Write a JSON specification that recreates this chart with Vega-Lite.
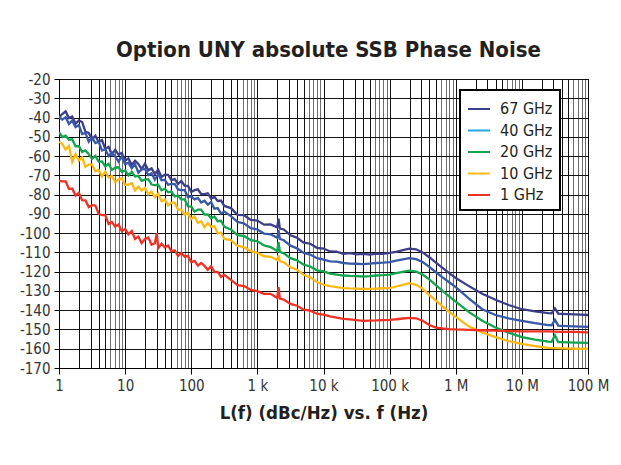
{
  "$schema": "https://vega.github.io/schema/vega-lite/v6.json",
  "width": 529,
  "height": 289,
  "autosize": {"type": "none"},
  "padding": {"left": 59, "top": 79, "right": 33, "bottom": 97},
  "background": "white",
  "title": {
    "text": "Option UNY absolute SSB Phase Noise",
    "font": "'Liberation Sans Narrow', 'DejaVu Sans Condensed', sans-serif",
    "fontSize": 22,
    "fontWeight": "bold",
    "color": "#231f20",
    "anchor": "middle",
    "baseline": "alphabetic",
    "offset": 18,
    "dx": 5,
    "dy": 25
  },
  "config": {
    "font": "'Liberation Sans Narrow', 'DejaVu Sans Condensed', sans-serif",
    "view": {"stroke": "#000", "strokeWidth": 1}
  },
  "data": {
    "values": [
      {"s":"67 GHz","f":1,"v":-40.0},{"s":"67 GHz","f":1.122,"v":-38.2},{"s":"67 GHz","f":1.259,"v":-36.8},{"s":"67 GHz","f":1.413,"v":-40.3},{"s":"67 GHz","f":1.585,"v":-39.5},{"s":"67 GHz","f":1.778,"v":-43.2},{"s":"67 GHz","f":1.995,"v":-41.5},{"s":"67 GHz","f":2.239,"v":-42.3},{"s":"67 GHz","f":2.512,"v":-47.4},{"s":"67 GHz","f":2.818,"v":-48.0},{"s":"67 GHz","f":3.162,"v":-51.4},{"s":"67 GHz","f":3.548,"v":-49.5},{"s":"67 GHz","f":3.981,"v":-52.8},{"s":"67 GHz","f":4.467,"v":-51.7},{"s":"67 GHz","f":5.012,"v":-56.2},{"s":"67 GHz","f":5.623,"v":-55.2},{"s":"67 GHz","f":6.31,"v":-59.2},{"s":"67 GHz","f":7.079,"v":-56.7},{"s":"67 GHz","f":7.943,"v":-59.3},{"s":"67 GHz","f":8.913,"v":-58.3},{"s":"67 GHz","f":10,"v":-62.4},{"s":"67 GHz","f":11.22,"v":-61.2},{"s":"67 GHz","f":12.59,"v":-64.6},{"s":"67 GHz","f":14.13,"v":-62.4},{"s":"67 GHz","f":15.85,"v":-64.1},{"s":"67 GHz","f":17.78,"v":-66.8},{"s":"67 GHz","f":19.95,"v":-63.9},{"s":"67 GHz","f":22.39,"v":-67.4},{"s":"67 GHz","f":25.12,"v":-66.4},{"s":"67 GHz","f":28.18,"v":-69.3},{"s":"67 GHz","f":31.62,"v":-67.1},{"s":"67 GHz","f":35.48,"v":-70.8},{"s":"67 GHz","f":39.81,"v":-69.7},{"s":"67 GHz","f":44.67,"v":-69.8},{"s":"67 GHz","f":50.12,"v":-72.5},{"s":"67 GHz","f":56.23,"v":-72.0},{"s":"67 GHz","f":63.1,"v":-74.5},{"s":"67 GHz","f":70.79,"v":-72.9},{"s":"67 GHz","f":79.43,"v":-75.3},{"s":"67 GHz","f":89.13,"v":-75.5},{"s":"67 GHz","f":100,"v":-78.6},{"s":"67 GHz","f":112.2,"v":-77.7},{"s":"67 GHz","f":125.9,"v":-77.3},{"s":"67 GHz","f":141.3,"v":-79.7},{"s":"67 GHz","f":158.5,"v":-79.8},{"s":"67 GHz","f":177.8,"v":-79.3},{"s":"67 GHz","f":199.5,"v":-82.1},{"s":"67 GHz","f":223.9,"v":-81.1},{"s":"67 GHz","f":251.2,"v":-83.3},{"s":"67 GHz","f":281.8,"v":-83.1},{"s":"67 GHz","f":316.2,"v":-85.9},
      {"s":"67 GHz","f":398.1,"v":-87.0},{"s":"67 GHz","f":501.2,"v":-90.5},{"s":"67 GHz","f":631,"v":-90.7},{"s":"67 GHz","f":794.3,"v":-93.1},{"s":"67 GHz","f":1000,"v":-93.5},{"s":"67 GHz","f":1259,"v":-95.6},{"s":"67 GHz","f":1585,"v":-95.5},{"s":"67 GHz","f":1995,"v":-97.0},{"s":"67 GHz","f":2089,"v":-92.5},{"s":"67 GHz","f":2188,"v":-97.6},{"s":"67 GHz","f":2512,"v":-98.1},{"s":"67 GHz","f":3162,"v":-101.1},{"s":"67 GHz","f":3981,"v":-102.4},{"s":"67 GHz","f":5012,"v":-104.9},{"s":"67 GHz","f":6310,"v":-105.5},{"s":"67 GHz","f":7943,"v":-107.6},{"s":"67 GHz","f":10000,"v":-108.0},{"s":"67 GHz","f":12590,"v":-109.5},{"s":"67 GHz","f":15850,"v":-109.6},{"s":"67 GHz","f":19950,"v":-110.7},{"s":"67 GHz","f":25120,"v":-110.4},{"s":"67 GHz","f":31620,"v":-111.0},{"s":"67 GHz","f":39810,"v":-110.8},{"s":"67 GHz","f":50120,"v":-111.1},{"s":"67 GHz","f":63100,"v":-110.6},{"s":"67 GHz","f":79430,"v":-110.8},{"s":"67 GHz","f":100000,"v":-110.3},{"s":"67 GHz","f":125900,"v":-109.7},{"s":"67 GHz","f":158500,"v":-108.8},{"s":"67 GHz","f":199500,"v":-108.0},{"s":"67 GHz","f":251200,"v":-108.4},{"s":"67 GHz","f":316200,"v":-110.0},{"s":"67 GHz","f":398100,"v":-112.5},{"s":"67 GHz","f":501200,"v":-115.3},{"s":"67 GHz","f":631000,"v":-118.0},{"s":"67 GHz","f":794300,"v":-120.8},{"s":"67 GHz","f":1000000,"v":-123.3},{"s":"67 GHz","f":1585000,"v":-127.5},{"s":"67 GHz","f":2512000,"v":-131.5},{"s":"67 GHz","f":3981000,"v":-134.6},{"s":"67 GHz","f":6310000,"v":-137.3},{"s":"67 GHz","f":10000000,"v":-139.5},{"s":"67 GHz","f":15850000,"v":-140.6},{"s":"67 GHz","f":25120000,"v":-141.5},{"s":"67 GHz","f":28180000,"v":-141.6},{"s":"67 GHz","f":31620000,"v":-139.0},{"s":"67 GHz","f":35480000,"v":-141.8},{"s":"67 GHz","f":39810000,"v":-141.9},{"s":"67 GHz","f":63100000,"v":-142.2},{"s":"67 GHz","f":100000000,"v":-142.5},

      {"s":"40 GHz","f":1,"v":-39.7},{"s":"40 GHz","f":1.122,"v":-41.1},{"s":"40 GHz","f":1.259,"v":-39.8},{"s":"40 GHz","f":1.413,"v":-43.3},{"s":"40 GHz","f":1.585,"v":-41.5},{"s":"40 GHz","f":1.778,"v":-45.0},{"s":"40 GHz","f":1.995,"v":-43.9},{"s":"40 GHz","f":2.239,"v":-48.6},{"s":"40 GHz","f":2.512,"v":-48.0},{"s":"40 GHz","f":2.818,"v":-52.5},{"s":"40 GHz","f":3.162,"v":-50.3},{"s":"40 GHz","f":3.548,"v":-53.3},{"s":"40 GHz","f":3.981,"v":-52.6},{"s":"40 GHz","f":4.467,"v":-57.1},{"s":"40 GHz","f":5.012,"v":-56.4},{"s":"40 GHz","f":5.623,"v":-60.0},{"s":"40 GHz","f":6.31,"v":-58.1},{"s":"40 GHz","f":7.079,"v":-60.1},{"s":"40 GHz","f":7.943,"v":-62.9},{"s":"40 GHz","f":8.913,"v":-60.3},{"s":"40 GHz","f":10,"v":-64.2},{"s":"40 GHz","f":11.22,"v":-63.4},{"s":"40 GHz","f":12.59,"v":-66.3},{"s":"40 GHz","f":14.13,"v":-64.2},{"s":"40 GHz","f":15.85,"v":-68.6},{"s":"40 GHz","f":17.78,"v":-66.9},{"s":"40 GHz","f":19.95,"v":-66.6},{"s":"40 GHz","f":22.39,"v":-69.9},{"s":"40 GHz","f":25.12,"v":-69.0},{"s":"40 GHz","f":28.18,"v":-72.2},{"s":"40 GHz","f":31.62,"v":-69.4},{"s":"40 GHz","f":35.48,"v":-72.5},{"s":"40 GHz","f":39.81,"v":-72.3},{"s":"40 GHz","f":44.67,"v":-74.9},{"s":"40 GHz","f":50.12,"v":-74.4},{"s":"40 GHz","f":56.23,"v":-74.5},{"s":"40 GHz","f":63.1,"v":-77.3},{"s":"40 GHz","f":70.79,"v":-77.7},{"s":"40 GHz","f":79.43,"v":-77.6},{"s":"40 GHz","f":89.13,"v":-81.3},{"s":"40 GHz","f":100,"v":-80.9},{"s":"40 GHz","f":112.2,"v":-82.5},{"s":"40 GHz","f":125.9,"v":-81.7},{"s":"40 GHz","f":141.3,"v":-84.1},{"s":"40 GHz","f":158.5,"v":-83.2},{"s":"40 GHz","f":177.8,"v":-85.2},{"s":"40 GHz","f":199.5,"v":-83.9},{"s":"40 GHz","f":223.9,"v":-87.3},{"s":"40 GHz","f":251.2,"v":-87.0},{"s":"40 GHz","f":281.8,"v":-89.8},{"s":"40 GHz","f":316.2,"v":-88.8},
      {"s":"40 GHz","f":398.1,"v":-91.2},{"s":"40 GHz","f":501.2,"v":-94.2},{"s":"40 GHz","f":631,"v":-95.0},{"s":"40 GHz","f":794.3,"v":-97.4},{"s":"40 GHz","f":1000,"v":-98.1},{"s":"40 GHz","f":1259,"v":-100.2},{"s":"40 GHz","f":1585,"v":-100.6},{"s":"40 GHz","f":1995,"v":-102.4},{"s":"40 GHz","f":2089,"v":-98.5},{"s":"40 GHz","f":2188,"v":-103.0},{"s":"40 GHz","f":2512,"v":-103.7},{"s":"40 GHz","f":3162,"v":-106.5},{"s":"40 GHz","f":3981,"v":-107.9},{"s":"40 GHz","f":5012,"v":-110.3},{"s":"40 GHz","f":6310,"v":-111.1},{"s":"40 GHz","f":7943,"v":-113.0},{"s":"40 GHz","f":10000,"v":-113.7},{"s":"40 GHz","f":12590,"v":-114.7},{"s":"40 GHz","f":15850,"v":-114.8},{"s":"40 GHz","f":19950,"v":-115.5},{"s":"40 GHz","f":25120,"v":-115.8},{"s":"40 GHz","f":31620,"v":-115.9},{"s":"40 GHz","f":39810,"v":-116.1},{"s":"40 GHz","f":50120,"v":-115.8},{"s":"40 GHz","f":63100,"v":-115.5},{"s":"40 GHz","f":79430,"v":-115.3},{"s":"40 GHz","f":100000,"v":-115.0},{"s":"40 GHz","f":125900,"v":-114.3},{"s":"40 GHz","f":158500,"v":-113.6},{"s":"40 GHz","f":199500,"v":-113.0},{"s":"40 GHz","f":251200,"v":-113.5},{"s":"40 GHz","f":316200,"v":-115.0},{"s":"40 GHz","f":398100,"v":-117.5},{"s":"40 GHz","f":501200,"v":-120.3},{"s":"40 GHz","f":631000,"v":-123.0},{"s":"40 GHz","f":794300,"v":-125.5},{"s":"40 GHz","f":1000000,"v":-128.0},{"s":"40 GHz","f":1585000,"v":-134.0},{"s":"40 GHz","f":2512000,"v":-139.5},{"s":"40 GHz","f":3981000,"v":-142.5},{"s":"40 GHz","f":6310000,"v":-144.3},{"s":"40 GHz","f":10000000,"v":-145.5},{"s":"40 GHz","f":15850000,"v":-146.7},{"s":"40 GHz","f":25120000,"v":-147.7},{"s":"40 GHz","f":28180000,"v":-147.8},{"s":"40 GHz","f":31620000,"v":-145.0},{"s":"40 GHz","f":35480000,"v":-148.0},{"s":"40 GHz","f":39810000,"v":-148.1},{"s":"40 GHz","f":63100000,"v":-148.4},{"s":"40 GHz","f":100000000,"v":-148.7},

      {"s":"20 GHz","f":1,"v":-47.6},{"s":"20 GHz","f":1.122,"v":-50.1},{"s":"20 GHz","f":1.259,"v":-49.4},{"s":"20 GHz","f":1.413,"v":-51.5},{"s":"20 GHz","f":1.585,"v":-51.3},{"s":"20 GHz","f":1.778,"v":-54.9},{"s":"20 GHz","f":1.995,"v":-54.8},{"s":"20 GHz","f":2.239,"v":-57.9},{"s":"20 GHz","f":2.512,"v":-57.1},{"s":"20 GHz","f":2.818,"v":-59.1},{"s":"20 GHz","f":3.162,"v":-61.4},{"s":"20 GHz","f":3.548,"v":-59.9},{"s":"20 GHz","f":3.981,"v":-62.9},{"s":"20 GHz","f":4.467,"v":-62.8},{"s":"20 GHz","f":5.012,"v":-65.4},{"s":"20 GHz","f":5.623,"v":-64.0},{"s":"20 GHz","f":6.31,"v":-67.2},{"s":"20 GHz","f":7.079,"v":-66.0},{"s":"20 GHz","f":7.943,"v":-65.8},{"s":"20 GHz","f":8.913,"v":-68.2},{"s":"20 GHz","f":10,"v":-67.5},{"s":"20 GHz","f":11.22,"v":-70.0},{"s":"20 GHz","f":12.59,"v":-68.2},{"s":"20 GHz","f":14.13,"v":-70.6},{"s":"20 GHz","f":15.85,"v":-70.3},{"s":"20 GHz","f":17.78,"v":-72.9},{"s":"20 GHz","f":19.95,"v":-72.2},{"s":"20 GHz","f":22.39,"v":-72.0},{"s":"20 GHz","f":25.12,"v":-74.8},{"s":"20 GHz","f":28.18,"v":-75.1},{"s":"20 GHz","f":31.62,"v":-74.9},{"s":"20 GHz","f":35.48,"v":-77.8},{"s":"20 GHz","f":39.81,"v":-77.0},{"s":"20 GHz","f":44.67,"v":-78.8},{"s":"20 GHz","f":50.12,"v":-78.4},{"s":"20 GHz","f":56.23,"v":-80.9},{"s":"20 GHz","f":63.1,"v":-80.5},{"s":"20 GHz","f":70.79,"v":-82.6},{"s":"20 GHz","f":79.43,"v":-82.4},{"s":"20 GHz","f":89.13,"v":-86.1},{"s":"20 GHz","f":100,"v":-86.2},{"s":"20 GHz","f":112.2,"v":-88.9},{"s":"20 GHz","f":125.9,"v":-87.8},{"s":"20 GHz","f":141.3,"v":-87.8},{"s":"20 GHz","f":158.5,"v":-90.4},{"s":"20 GHz","f":177.8,"v":-90.3},{"s":"20 GHz","f":199.5,"v":-92.3},{"s":"20 GHz","f":223.9,"v":-91.4},{"s":"20 GHz","f":251.2,"v":-93.8},{"s":"20 GHz","f":281.8,"v":-93.6},{"s":"20 GHz","f":316.2,"v":-96.7},
      {"s":"20 GHz","f":398.1,"v":-98.1},{"s":"20 GHz","f":501.2,"v":-101.0},{"s":"20 GHz","f":631,"v":-101.6},{"s":"20 GHz","f":794.3,"v":-103.6},{"s":"20 GHz","f":1000,"v":-104.2},{"s":"20 GHz","f":1259,"v":-106.4},{"s":"20 GHz","f":1585,"v":-107.2},{"s":"20 GHz","f":1995,"v":-109.3},{"s":"20 GHz","f":2089,"v":-104.5},{"s":"20 GHz","f":2188,"v":-109.8},{"s":"20 GHz","f":2512,"v":-110.5},{"s":"20 GHz","f":3162,"v":-113.0},{"s":"20 GHz","f":3981,"v":-114.1},{"s":"20 GHz","f":5012,"v":-116.4},{"s":"20 GHz","f":6310,"v":-117.3},{"s":"20 GHz","f":7943,"v":-119.3},{"s":"20 GHz","f":10000,"v":-119.9},{"s":"20 GHz","f":12590,"v":-121.0},{"s":"20 GHz","f":15850,"v":-121.5},{"s":"20 GHz","f":19950,"v":-122.0},{"s":"20 GHz","f":25120,"v":-122.2},{"s":"20 GHz","f":31620,"v":-122.3},{"s":"20 GHz","f":39810,"v":-122.5},{"s":"20 GHz","f":50120,"v":-122.3},{"s":"20 GHz","f":63100,"v":-122.0},{"s":"20 GHz","f":79430,"v":-121.8},{"s":"20 GHz","f":100000,"v":-121.5},{"s":"20 GHz","f":125900,"v":-120.8},{"s":"20 GHz","f":158500,"v":-120.1},{"s":"20 GHz","f":199500,"v":-119.5},{"s":"20 GHz","f":251200,"v":-120.0},{"s":"20 GHz","f":316200,"v":-121.5},{"s":"20 GHz","f":398100,"v":-124.0},{"s":"20 GHz","f":501200,"v":-127.0},{"s":"20 GHz","f":631000,"v":-130.0},{"s":"20 GHz","f":794300,"v":-132.8},{"s":"20 GHz","f":1000000,"v":-135.5},{"s":"20 GHz","f":1585000,"v":-141.0},{"s":"20 GHz","f":2512000,"v":-145.5},{"s":"20 GHz","f":3981000,"v":-149.0},{"s":"20 GHz","f":6310000,"v":-151.6},{"s":"20 GHz","f":10000000,"v":-154.0},{"s":"20 GHz","f":15850000,"v":-155.3},{"s":"20 GHz","f":25120000,"v":-156.3},{"s":"20 GHz","f":28180000,"v":-156.4},{"s":"20 GHz","f":31620000,"v":-153.0},{"s":"20 GHz","f":35480000,"v":-156.6},{"s":"20 GHz","f":39810000,"v":-156.6},{"s":"20 GHz","f":63100000,"v":-156.8},{"s":"20 GHz","f":100000000,"v":-157.0},

      {"s":"10 GHz","f":1,"v":-52.5},{"s":"10 GHz","f":1.122,"v":-53.8},{"s":"10 GHz","f":1.259,"v":-56.6},{"s":"10 GHz","f":1.413,"v":-54.7},{"s":"10 GHz","f":1.585,"v":-63.0},{"s":"10 GHz","f":1.778,"v":-58.9},{"s":"10 GHz","f":1.995,"v":-62.3},{"s":"10 GHz","f":2.239,"v":-60.7},{"s":"10 GHz","f":2.512,"v":-65.6},{"s":"10 GHz","f":2.818,"v":-64.3},{"s":"10 GHz","f":3.162,"v":-64.4},{"s":"10 GHz","f":3.548,"v":-67.9},{"s":"10 GHz","f":3.981,"v":-67.2},{"s":"10 GHz","f":4.467,"v":-70.6},{"s":"10 GHz","f":5.012,"v":-68.1},{"s":"10 GHz","f":5.623,"v":-71.1},{"s":"10 GHz","f":6.31,"v":-70.3},{"s":"10 GHz","f":7.079,"v":-73.5},{"s":"10 GHz","f":7.943,"v":-72.2},{"s":"10 GHz","f":8.913,"v":-71.5},{"s":"10 GHz","f":10,"v":-74.9},{"s":"10 GHz","f":11.22,"v":-74.9},{"s":"10 GHz","f":12.59,"v":-74.0},{"s":"10 GHz","f":14.13,"v":-77.8},{"s":"10 GHz","f":15.85,"v":-75.9},{"s":"10 GHz","f":17.78,"v":-77.9},{"s":"10 GHz","f":19.95,"v":-76.5},{"s":"10 GHz","f":22.39,"v":-79.8},{"s":"10 GHz","f":25.12,"v":-78.5},{"s":"10 GHz","f":28.18,"v":-81.3},{"s":"10 GHz","f":31.62,"v":-79.5},{"s":"10 GHz","f":35.48,"v":-83.4},{"s":"10 GHz","f":39.81,"v":-82.6},{"s":"10 GHz","f":44.67,"v":-85.6},{"s":"10 GHz","f":50.12,"v":-84.2},{"s":"10 GHz","f":56.23,"v":-84.2},{"s":"10 GHz","f":63.1,"v":-87.8},{"s":"10 GHz","f":70.79,"v":-87.8},{"s":"10 GHz","f":79.43,"v":-90.4},{"s":"10 GHz","f":89.13,"v":-89.5},{"s":"10 GHz","f":100,"v":-92.7},{"s":"10 GHz","f":112.2,"v":-91.4},{"s":"10 GHz","f":125.9,"v":-94.7},{"s":"10 GHz","f":141.3,"v":-93.8},{"s":"10 GHz","f":158.5,"v":-96.9},{"s":"10 GHz","f":177.8,"v":-94.8},{"s":"10 GHz","f":199.5,"v":-96.7},{"s":"10 GHz","f":223.9,"v":-96.3},{"s":"10 GHz","f":251.2,"v":-100.1},{"s":"10 GHz","f":281.8,"v":-99.7},{"s":"10 GHz","f":316.2,"v":-103.0},
      {"s":"10 GHz","f":398.1,"v":-103.6},{"s":"10 GHz","f":501.2,"v":-106.6},{"s":"10 GHz","f":631,"v":-107.3},{"s":"10 GHz","f":794.3,"v":-109.4},{"s":"10 GHz","f":1000,"v":-110.2},{"s":"10 GHz","f":1259,"v":-112.0},{"s":"10 GHz","f":1585,"v":-112.3},{"s":"10 GHz","f":1995,"v":-114.0},{"s":"10 GHz","f":2089,"v":-111.5},{"s":"10 GHz","f":2188,"v":-114.6},{"s":"10 GHz","f":2512,"v":-115.1},{"s":"10 GHz","f":3162,"v":-117.7},{"s":"10 GHz","f":3981,"v":-119.0},{"s":"10 GHz","f":5012,"v":-121.6},{"s":"10 GHz","f":6310,"v":-122.9},{"s":"10 GHz","f":7943,"v":-125.4},{"s":"10 GHz","f":10000,"v":-126.8},{"s":"10 GHz","f":12590,"v":-127.5},{"s":"10 GHz","f":15850,"v":-128.0},{"s":"10 GHz","f":19950,"v":-128.5},{"s":"10 GHz","f":25120,"v":-128.7},{"s":"10 GHz","f":31620,"v":-128.8},{"s":"10 GHz","f":39810,"v":-129.0},{"s":"10 GHz","f":50120,"v":-128.9},{"s":"10 GHz","f":63100,"v":-128.8},{"s":"10 GHz","f":79430,"v":-128.6},{"s":"10 GHz","f":100000,"v":-128.5},{"s":"10 GHz","f":125900,"v":-127.7},{"s":"10 GHz","f":158500,"v":-126.8},{"s":"10 GHz","f":199500,"v":-126.0},{"s":"10 GHz","f":251200,"v":-126.8},{"s":"10 GHz","f":316200,"v":-128.8},{"s":"10 GHz","f":398100,"v":-132.0},{"s":"10 GHz","f":501200,"v":-135.0},{"s":"10 GHz","f":631000,"v":-138.0},{"s":"10 GHz","f":794300,"v":-140.8},{"s":"10 GHz","f":1000000,"v":-143.5},{"s":"10 GHz","f":1585000,"v":-148.5},{"s":"10 GHz","f":2512000,"v":-151.5},{"s":"10 GHz","f":3981000,"v":-154.0},{"s":"10 GHz","f":6310000,"v":-156.0},{"s":"10 GHz","f":10000000,"v":-157.5},{"s":"10 GHz","f":15850000,"v":-158.6},{"s":"10 GHz","f":25120000,"v":-159.6},{"s":"10 GHz","f":39810000,"v":-159.8},{"s":"10 GHz","f":63100000,"v":-160.0},{"s":"10 GHz","f":100000000,"v":-160.0},

      {"s":"1 GHz","f":1,"v":-72.8},{"s":"1 GHz","f":1.122,"v":-73.1},{"s":"1 GHz","f":1.259,"v":-73.1},{"s":"1 GHz","f":1.413,"v":-77.1},{"s":"1 GHz","f":1.585,"v":-76.8},{"s":"1 GHz","f":1.778,"v":-80.5},{"s":"1 GHz","f":1.995,"v":-79.1},{"s":"1 GHz","f":2.239,"v":-82.9},{"s":"1 GHz","f":2.512,"v":-83.0},{"s":"1 GHz","f":2.818,"v":-86.5},{"s":"1 GHz","f":3.162,"v":-85.5},{"s":"1 GHz","f":3.548,"v":-85.7},{"s":"1 GHz","f":3.981,"v":-89.9},{"s":"1 GHz","f":4.467,"v":-90.7},{"s":"1 GHz","f":5.012,"v":-90.7},{"s":"1 GHz","f":5.623,"v":-95.3},{"s":"1 GHz","f":6.31,"v":-94.2},{"s":"1 GHz","f":7.079,"v":-96.6},{"s":"1 GHz","f":7.943,"v":-95.5},{"s":"1 GHz","f":8.913,"v":-99.0},{"s":"1 GHz","f":10,"v":-97.8},{"s":"1 GHz","f":11.22,"v":-100.6},{"s":"1 GHz","f":12.59,"v":-98.9},{"s":"1 GHz","f":14.13,"v":-103.0},{"s":"1 GHz","f":15.85,"v":-101.8},{"s":"1 GHz","f":17.78,"v":-105.2},{"s":"1 GHz","f":19.95,"v":-103.0},{"s":"1 GHz","f":22.39,"v":-102.3},{"s":"1 GHz","f":25.12,"v":-106.0},{"s":"1 GHz","f":28.18,"v":-105.2},{"s":"1 GHz","f":30.2,"v":-100.0},{"s":"1 GHz","f":31.62,"v":-107.8},{"s":"1 GHz","f":35.48,"v":-105.5},{"s":"1 GHz","f":39.81,"v":-107.4},{"s":"1 GHz","f":44.67,"v":-106.4},{"s":"1 GHz","f":50.12,"v":-109.5},{"s":"1 GHz","f":56.23,"v":-108.9},{"s":"1 GHz","f":63.1,"v":-111.8},{"s":"1 GHz","f":70.79,"v":-110.3},{"s":"1 GHz","f":79.43,"v":-112.2},{"s":"1 GHz","f":89.13,"v":-111.8},{"s":"1 GHz","f":100,"v":-115.0},{"s":"1 GHz","f":112.2,"v":-114.4},{"s":"1 GHz","f":125.9,"v":-116.9},{"s":"1 GHz","f":141.3,"v":-115.5},{"s":"1 GHz","f":158.5,"v":-117.0},{"s":"1 GHz","f":177.8,"v":-119.0},{"s":"1 GHz","f":199.5,"v":-117.2},{"s":"1 GHz","f":223.9,"v":-120.2},{"s":"1 GHz","f":251.2,"v":-120.1},{"s":"1 GHz","f":281.8,"v":-122.7},{"s":"1 GHz","f":316.2,"v":-121.7},
      {"s":"1 GHz","f":398.1,"v":-124.3},{"s":"1 GHz","f":501.2,"v":-127.0},{"s":"1 GHz","f":631,"v":-127.5},{"s":"1 GHz","f":794.3,"v":-129.5},{"s":"1 GHz","f":1000,"v":-130.1},{"s":"1 GHz","f":1259,"v":-131.5},{"s":"1 GHz","f":1585,"v":-131.5},{"s":"1 GHz","f":1995,"v":-133.7},{"s":"1 GHz","f":2089,"v":-128.0},{"s":"1 GHz","f":2188,"v":-134.0},{"s":"1 GHz","f":2512,"v":-134.5},{"s":"1 GHz","f":3162,"v":-136.7},{"s":"1 GHz","f":3981,"v":-137.7},{"s":"1 GHz","f":5012,"v":-139.7},{"s":"1 GHz","f":6310,"v":-140.2},{"s":"1 GHz","f":7943,"v":-141.8},{"s":"1 GHz","f":10000,"v":-142.3},{"s":"1 GHz","f":12590,"v":-143.2},{"s":"1 GHz","f":15850,"v":-143.8},{"s":"1 GHz","f":19950,"v":-144.5},{"s":"1 GHz","f":25120,"v":-144.8},{"s":"1 GHz","f":31620,"v":-145.2},{"s":"1 GHz","f":39810,"v":-145.5},{"s":"1 GHz","f":50120,"v":-145.4},{"s":"1 GHz","f":63100,"v":-145.3},{"s":"1 GHz","f":79430,"v":-145.1},{"s":"1 GHz","f":100000,"v":-145.0},{"s":"1 GHz","f":125900,"v":-144.7},{"s":"1 GHz","f":158500,"v":-144.3},{"s":"1 GHz","f":199500,"v":-144.0},{"s":"1 GHz","f":251200,"v":-144.2},{"s":"1 GHz","f":316200,"v":-145.5},{"s":"1 GHz","f":398100,"v":-147.7},{"s":"1 GHz","f":501200,"v":-149.0},{"s":"1 GHz","f":631000,"v":-149.5},{"s":"1 GHz","f":794300,"v":-149.8},{"s":"1 GHz","f":1000000,"v":-150.0},{"s":"1 GHz","f":1585000,"v":-150.2},{"s":"1 GHz","f":2512000,"v":-150.4},{"s":"1 GHz","f":3981000,"v":-150.6},{"s":"1 GHz","f":6310000,"v":-150.8},{"s":"1 GHz","f":10000000,"v":-151.0},{"s":"1 GHz","f":15850000,"v":-151.0},{"s":"1 GHz","f":25120000,"v":-151.0},{"s":"1 GHz","f":39810000,"v":-151.2},{"s":"1 GHz","f":63100000,"v":-151.3},{"s":"1 GHz","f":100000000,"v":-151.5}
    ]
  },
  "mark": {"type": "line", "strokeWidth": 2.3, "clip": true},
  "encoding": {
    "x": {
      "field": "f",
      "type": "quantitative",
      "scale": {"type": "log", "domain": [1, 100000000], "nice": false},
      "axis": {
        "values": [1,2,3,4,5,6,7,8,9,10,20,30,40,50,60,70,80,90,100,200,300,400,500,600,700,800,900,1000,2000,3000,4000,5000,6000,7000,8000,9000,10000,20000,30000,40000,50000,60000,70000,80000,90000,100000,200000,300000,400000,500000,600000,700000,800000,900000,1000000,2000000,3000000,4000000,5000000,6000000,7000000,8000000,9000000,10000000,20000000,30000000,40000000,50000000,60000000,70000000,80000000,90000000,100000000],
        "labelExpr": "datum.value == 1 ? '1' : datum.value == 10 ? '10' : datum.value == 100 ? '100' : datum.value == 1000 ? '1 k' : datum.value == 10000 ? '10 k' : datum.value == 100000 ? '100 k' : datum.value == 1000000 ? '1 M' : datum.value == 10000000 ? '10 M' : datum.value == 100000000 ? '100 M' : ''",
        "labelOverlap": false,
        "labelFlush": false,
        "labelFontSize": 15,
        "labelColor": "#333333",
        "labelPadding": 4,
        "tickSize": 6,
        "tickColor": {"condition": {"test": "abs(log(datum.value)/LN10 - round(log(datum.value)/LN10)) < 0.001", "value": "#000000"}, "value": "transparent"},
        "domainColor": "#000000",
        "grid": true,
        "gridColor": {"condition": {"test": "datum.value / pow(10, floor(log(datum.value)/LN10 + 0.001)) < 5.5", "value": "#111111"}, "value": "#6e6e6e"},
        "gridOpacity": 1,
        "gridWidth": 1,
        "title": "L(f) (dBc/Hz) vs. f (Hz)",
        "titleFontSize": 18.5,
        "titleFontWeight": "bold",
        "titleColor": "#231f20",
        "titlePadding": 10
      }
    },
    "y": {
      "field": "v",
      "type": "quantitative",
      "scale": {"domain": [-170, -20], "nice": false, "zero": false},
      "axis": {
        "values": [-170,-160,-150,-140,-130,-120,-110,-100,-90,-80,-70,-60,-50,-40,-30,-20],
        "labelExpr": "'' + datum.value",
        "labelFontSize": 15,
        "labelColor": "#333333",
        "labelPadding": 4,
        "tickSize": 5,
        "tickColor": "#000000",
        "domainColor": "#000000",
        "grid": true,
        "gridColor": "#111111",
        "gridOpacity": 1,
        "gridWidth": 1,
        "title": null
      }
    },
    "color": {
      "condition": {"test": "datum.s === '40 GHz'", "value": "#3858a8"},
      "field": "s",
      "type": "nominal",
      "scale": {
        "domain": ["67 GHz", "40 GHz", "20 GHz", "10 GHz", "1 GHz"],
        "range": ["#3d3e89", "#22a8e2", "#12a54e", "#fdb913", "#ee3124"]
      },
      "legend": {
        "orient": "none",
        "legendX": 401,
        "legendY": 11,
        "title": null,
        "direction": "vertical",
        "symbolType": "stroke",
        "symbolSize": 484,
        "symbolStrokeWidth": 2,
        "labelFontSize": 16,
        "labelColor": "#231f20",
        "labelOffset": 9,
        "rowPadding": 1.5,
        "padding": 7,
        "strokeColor": "#000000",
        "fillColor": "#ffffff",
        "encode": {
          "legend": {"update": {"strokeWidth": {"value": 2}}}
        }
      }
    }
  }
}
